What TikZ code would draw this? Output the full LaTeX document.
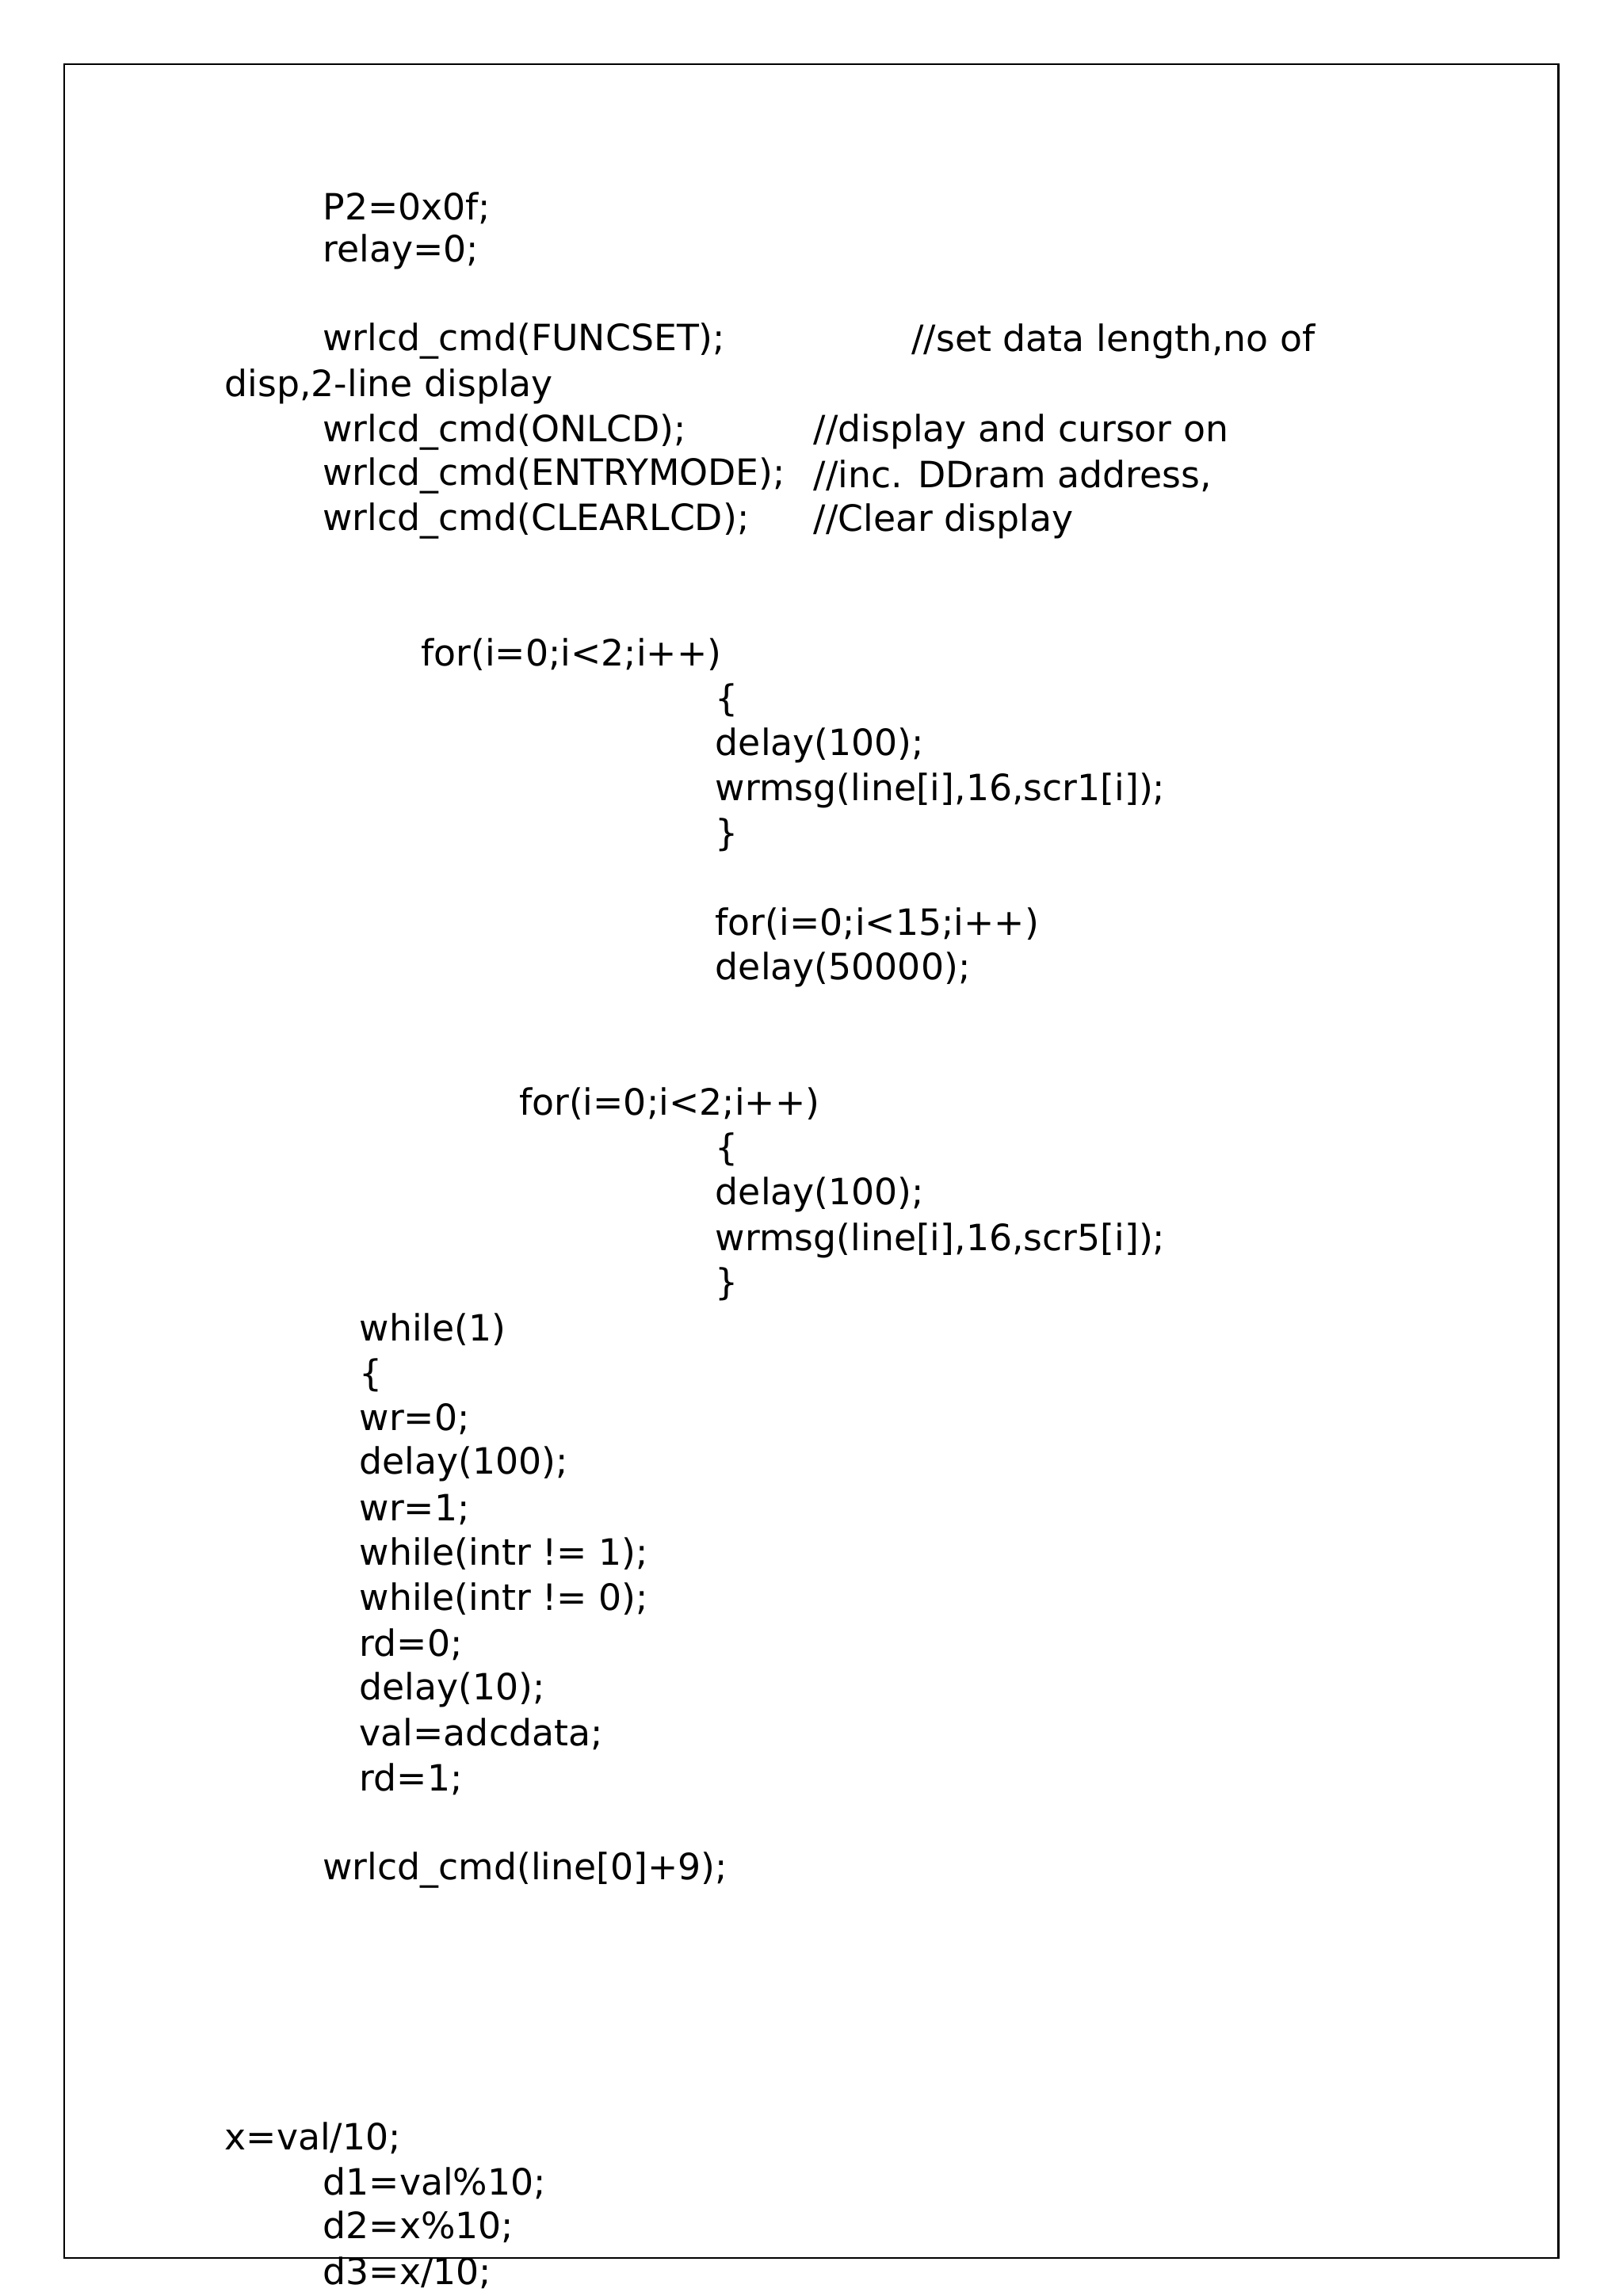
\documentclass[tikz,border=0pt]{standalone}
\usepackage{fontspec}
\setmainfont{DejaVu Sans}
\begin{document}
\begin{tikzpicture}[x=0.4pt,y=-0.4pt,
  code/.style={anchor=west,inner sep=0pt,font=\fontsize{9.9}{12}\selectfont}]
\useasboundingbox (0,0) rectangle (1108,1568);
\draw[line width=0.5pt] (44,44) rectangle (1064,1542);
\node[code] (l1) at (220,142) {P2=0x0f;};
\node[code] (l2) at (220,172) {relay=0;};
\node[code] (l3) at (220,233) {wrlcd\_cmd(FUNCSET);};
\node[code] (c3) at (622,233) {//set data length,no of};
\node[code] (l4) at (153,264) {disp,2-line display};
\node[code] (l5) at (220,295) {wrlcd\_cmd(ONLCD);};
\node[code] (c5) at (555,295) {//display and cursor on};
\node[code] (l6) at (220,325) {wrlcd\_cmd(ENTRYMODE);};
\node[code] (c6) at (555,325) {//inc. DDram address,};
\node[code] (l7) at (220,356) {wrlcd\_cmd(CLEARLCD);};
\node[code] (c7) at (555,356) {//Clear display};
\node[code] (l8) at (287,447) {for(i=0;i<2;i++)};
\node[code] (l9) at (488,478) {\{};
\node[code] (l10) at (488,509) {delay(100);};
\node[code] (l11) at (488,540) {wrmsg(line[i],16,scr1[i]);};
\node[code] (l12) at (488,570) {\}};
\node[code] (l13) at (488,631) {for(i=0;i<15;i++)};
\node[code] (l14) at (488,662) {delay(50000);};
\node[code] (l15) at (354,754) {for(i=0;i<2;i++)};
\node[code] (l16) at (488,785) {\{};
\node[code] (l17) at (488,816) {delay(100);};
\node[code] (l18) at (488,847) {wrmsg(line[i],16,scr5[i]);};
\node[code] (l19) at (488,877) {\}};
\node[code] (l20) at (245,908) {while(1)};
\node[code] (l21) at (245,939) {\{};
\node[code] (l22) at (245,969) {wr=0;};
\node[code] (l23) at (245,1000) {delay(100);};
\node[code] (l24) at (245,1031) {wr=1;};
\node[code] (l25) at (245,1061) {while(intr != 1);};
\node[code] (l26) at (245,1092) {while(intr != 0);};
\node[code] (l27) at (245,1123) {rd=0;};
\node[code] (l28) at (245,1154) {delay(10);};
\node[code] (l29) at (245,1184) {val=adcdata;};
\node[code] (l30) at (245,1215) {rd=1;};
\node[code] (l31) at (220,1277) {wrlcd\_cmd(line[0]+9);};
\node[code] (l32) at (153,1460) {x=val/10;};
\node[code] (l33) at (220,1491) {d1=val\%10;};
\node[code] (l34) at (220,1521) {d2=x\%10;};
\node[code] (l35) at (220,1552) {d3=x/10;};
\end{tikzpicture}
\end{document}
